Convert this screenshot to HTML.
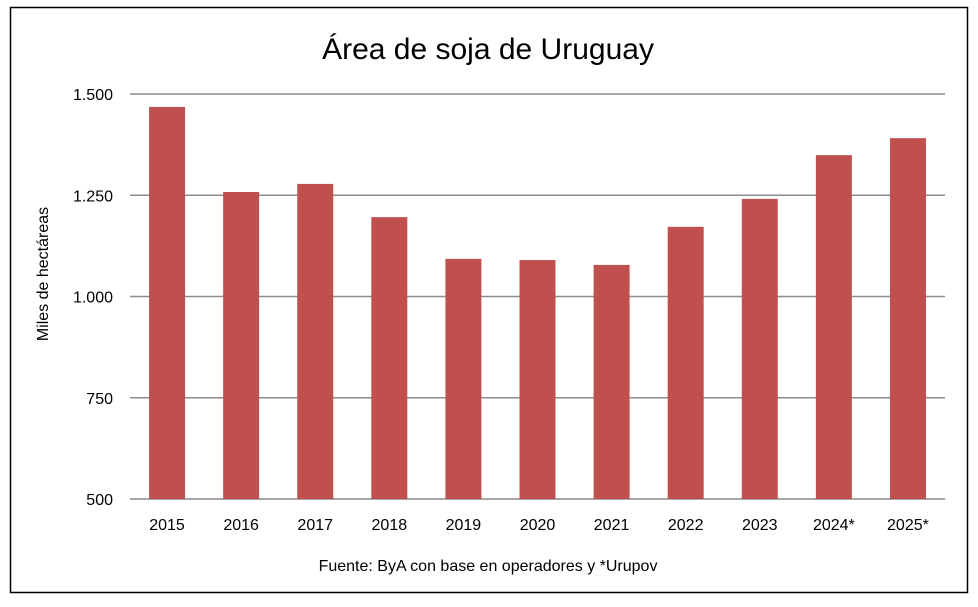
<!DOCTYPE html>
<html><head><meta charset="utf-8"><style>
body{margin:0;background:#fff;}
svg{display:block;font-family:"Liberation Sans",sans-serif;}
</style></head><body>
<svg width="978" height="607">
<rect x="10.5" y="7.5" width="957" height="585" fill="#fff" stroke="#000" stroke-width="1.5"/>
<text x="488" y="59" text-anchor="middle" font-size="30" fill="#000">Área de soja de Uruguay</text>
<text transform="translate(48,274) rotate(-90)" text-anchor="middle" font-size="16">Miles de hectáreas</text>
<text x="488" y="571" text-anchor="middle" font-size="16">Fuente: ByA con base en operadores y *Urupov</text>
<g id="grid"></g><g id="bars"></g><g id="xl"></g>
</svg>
<script>
const categories=["2015","2016","2017","2018","2019","2020","2021","2022","2023","2024*","2025*"];
const values=[1468,1258,1278,1196,1093,1090,1078,1172,1241,1349,1391];
const ticks=[500,750,1000,1250,1500];
const tickLabels=["500","750","1.000","1.250","1.500"];
const NS="http://www.w3.org/2000/svg";
const x0=130,x1=945,yTop=94,yBot=499,vMin=500,vMax=1500;
const y=v=>yBot-(v-vMin)/(vMax-vMin)*(yBot-yTop);
const step=(x1-x0)/categories.length;
const xc=i=>x0+step*(i+0.5);
function mk(t,a,p){const e=document.createElementNS(NS,t);for(const k in a)e.setAttribute(k,a[k]);p.appendChild(e);return e;}
const g=document.getElementById('grid');
ticks.forEach((t,i)=>{
 const l=mk('line',{x1:x0,x2:x1,y1:y(t),y2:y(t),stroke:i===0?'#888':'#8c8c8c','stroke-width':1.5},g);
 
 
 const tx=mk('text',{x:x0-17,y:y(t)+6,'text-anchor':'end','font-size':16},g);
 tx.textContent=tickLabels[i];
 
 
});
const b=document.getElementById('bars'),xl=document.getElementById('xl');
values.forEach((v,i)=>{
 const r=mk('rect',{x:xc(i)-18,y:y(v),width:36,height:yBot-y(v),fill:'#C0504D'},b);
 
 
 const t=mk('text',{x:xc(i),y:530,'text-anchor':'middle','font-size':16},xl);
 t.textContent=categories[i];
 
 
});
</script>
</body></html>
